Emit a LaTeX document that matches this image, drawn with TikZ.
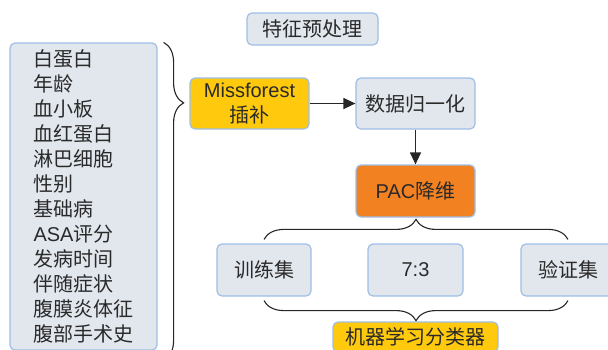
\documentclass[tikz,border=0pt]{standalone}
\usepackage{fontspec}
\setmainfont{Liberation Sans}
\newfontfamily\cjk{Noto Sans CJK SC}
\usetikzlibrary{arrows.meta,decorations.pathreplacing}
\definecolor{boxgray}{HTML}{E2E7ED}
\definecolor{boxline}{HTML}{9EBEE6}
\definecolor{boxyellow}{HTML}{FFC90E}
\definecolor{boxorange}{HTML}{F28121}
\definecolor{txt}{HTML}{2A2A2A}

\begin{document}
\begin{tikzpicture}[
  x=1pt, y=-1pt,
  every node/.style={font=\fontsize{20}{25}\selectfont, text=txt},
  stage/.style={draw=boxline, line width=1.2pt, rounded corners=5pt,
    fill=boxgray, inner sep=0pt, align=center},
  fillstage/.style={stage, fill=boxyellow},
  pacstage/.style={stage, fill=boxorange},
  link/.style={line width=1.2pt, draw=black!85, -{Triangle[length=12pt,width=11pt]}},
  bracket/.style={line width=1.1pt, draw=black!85,
    decorate, decoration={brace, amplitude=20pt}}
  ]
  \useasboundingbox (0,0) rectangle (608,349);

  \node[stage, minimum width=131pt, minimum height=32pt] (title) at (312.5,29) {\cjk 特征预处理};
  \node[stage, minimum width=147pt, minimum height=307pt, align=left] (feats) at (83.5,196.5)
    {\cjk 白蛋白\\\cjk 年龄\\\cjk 血小板\\\cjk 血红蛋白\\\cjk 淋巴细胞\\\cjk 性别\\\cjk 基础病\\
     ASA{\cjk 评分}\\\cjk 发病时间\\\cjk 伴随症状\\\cjk 腹膜炎体征\\\cjk 腹部手术史};

  \node[fillstage, minimum width=119pt, minimum height=51pt] (miss) at (249.5,103.5) {Missforest\\\cjk 插补};
  \node[stage, minimum width=119pt, minimum height=51pt] (norm) at (415.5,103.5) {\cjk 数据归一化};
  \node[pacstage, minimum width=119pt, minimum height=52pt] (pac) at (415.5,191) {PAC{\cjk 降维}};

  \node[stage, minimum width=94pt, minimum height=52pt] (train) at (264,270) {\cjk 训练集};
  \node[stage, minimum width=95pt, minimum height=52pt] (ratio) at (415.5,270) {7:3};
  \node[stage, minimum width=94pt, minimum height=52pt] (valid) at (568,270) {\cjk 验证集};
  \node[fillstage, minimum width=165pt, minimum height=30pt] (clf) at (415.5,337) {\cjk 机器学习分类器};

  % arrows
  \draw[link] (miss) -- (norm);
  \draw[link] (norm) -- (pac);

  % braces
  \coordinate (lb top) at ([xshift=6pt]feats.north east);
  \coordinate (lb bot) at ([xshift=6pt,yshift=-10pt]feats.south east);
  \draw[bracket, decoration={aspect=0.19}] (lb top) -- (lb bot);
  \draw[bracket] ([yshift=4pt]train.north) -- ([yshift=4pt]valid.north);
  \draw[bracket] ([yshift=-4pt]valid.south) -- ([yshift=-4pt]train.south);
\end{tikzpicture}
\end{document}
